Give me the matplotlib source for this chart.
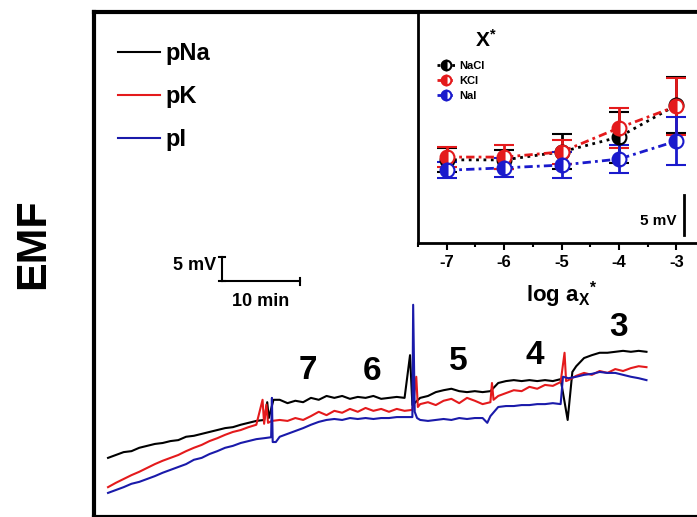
import matplotlib.pyplot as plt

plt.rcParams['font.family'] = ['Liberation Sans', 'DejaVu Sans']
plt.rcParams['font.weight'] = 'bold'
plt.rcParams['axes.labelweight'] = 'bold'
plt.rcParams['axes.unicode_minus'] = False
plt.rcParams['mathtext.fontset'] = 'custom'
plt.rcParams['mathtext.rm'] = 'Liberation Sans:bold'
plt.rcParams['mathtext.it'] = 'Liberation Sans:bold'
plt.rcParams['mathtext.bf'] = 'Liberation Sans:bold'

# main traces: time (min) vs EMF (mV, relative)
black_t = list(range(0, 20)) + [20, 20.4, 20.6, 21.2] + list(range(22, 39)) + [38.7, 39.0] \
    + list(range(40, 50)) + list(range(50, 59)) + [58.9, 59.5] + list(range(60, 70))
black_v = [11.9, 12.5, 13.1, 13.3, 14.0, 14.4, 14.8, 15.0, 15.4, 15.6, 16.3, 16.5, 16.9, 17.3, 17.7,
           18.1, 18.3, 18.8, 19.2, 19.6,
           19.8, 23.5, 20.2, 24.0,
           24.0, 23.3, 23.8, 23.5, 24.4, 24.0, 24.8, 24.4, 24.8, 24.2, 24.6, 24.4, 24.8, 24.2, 24.4, 24.6, 24.4,
           33.3, 22.9,
           24.4, 24.8, 25.6, 26.0, 26.3, 25.8, 25.6, 25.8, 25.6, 25.8,
           27.5, 27.9, 28.1, 27.9, 28.1, 27.9, 28.1, 27.9, 28.3,
           19.8, 29.8,
           31.0, 32.7, 33.3, 33.8, 33.8, 34.0, 34.2, 34.0, 34.2, 34.0]

red_t = list(range(0, 20)) + [19.8, 20.0, 20.3, 20.5] + list(range(21, 39)) + [39, 39.5, 39.7] \
    + list(range(40, 50)) + [49.2, 49.4] + list(range(50, 59)) + [58.5, 58.7] + list(range(59, 70))
red_v = [5.8, 6.7, 7.5, 8.3, 9.0, 9.8, 10.6, 11.3, 11.9, 12.5, 13.3, 14.0, 14.6, 15.4, 16.0, 16.7,
         17.3, 17.7, 18.3, 18.8,
         24.0, 19.0, 23.0, 19.2,
         19.6, 19.8, 19.6, 20.2, 19.8, 20.6, 21.5, 20.8, 21.7, 21.3, 22.1, 21.5, 22.3, 21.7, 22.1, 21.5,
         22.1, 21.7,
         21.9, 28.8, 22.5,
         23.1, 23.5, 22.9, 23.8, 24.2, 23.3, 24.4, 23.8, 23.1, 23.5,
         27.5, 24.0,
         24.8, 25.4, 26.0, 25.8, 26.7, 26.3, 27.1, 26.9, 27.7,
         33.8, 27.9,
         28.1, 29.0, 29.6, 29.2, 30.0, 29.6, 30.4, 30.0, 30.6, 31.0, 30.8]

blue_t = list(range(0, 21)) + [20.9, 21.0, 21.1, 21.5] + list(range(22, 39)) + [39.0, 39.1, 39.3, 39.6] \
    + list(range(40, 49)) + [48.6, 49] + list(range(50, 59)) + [58.3] + list(range(59, 70))
blue_v = [4.6, 5.2, 5.8, 6.5, 6.9, 7.5, 8.1, 8.8, 9.4, 10.0, 10.6, 11.5, 11.9, 12.7, 13.3, 14.0,
          14.4, 15.0, 15.4, 15.8, 16.0,
          16.2, 24.4, 15.2, 15.2,
          16.3, 16.9, 17.5, 18.1, 18.8, 19.4, 19.8, 20.0, 19.8, 20.2, 20.0, 20.2, 20.0, 20.2, 20.2, 20.4, 20.4,
          20.4, 43.8, 21.5, 20.2,
          19.8, 19.6, 19.8, 20.0, 19.8, 20.2, 20.0, 20.2, 20.2,
          19.2, 20.6,
          22.5, 22.7, 22.7, 22.9, 22.9, 23.1, 23.1, 23.3, 23.1,
          28.8,
          28.5, 28.8, 29.2, 29.4, 29.8, 29.6, 29.6, 29.2, 28.8, 28.5, 28.1]

step_labels = ['7', '6', '5', '4', '3']
step_t = [25.6, 33.8, 44.9, 54.7, 65.4]
step_v = [30.2, 29.8, 31.9, 33.3, 39.0]

# inset: response vs log activity
log_a = [-7, -6, -5, -4, -3]
nacl = [10.4, 10.4, 11.4, 13.25, 17.25]
nacl_err = [1.5, 1.2, 2.2, 3.2, 3.5]
kcl = [10.75, 10.75, 11.4, 14.4, 17.1]
kcl_err = [1.3, 1.5, 1.5, 2.5, 3.6]
nai = [9.1, 9.4, 9.75, 10.5, 12.75]
nai_err = [1.0, 1.2, 1.6, 1.8, 3.0]

W, H = 697, 517
fig = plt.figure(figsize=(W / 100, H / 100), dpi=100)

# main panel
ax = fig.add_axes([94 / W, 0, 611 / W, 505 / H])
ax.set_xlim(-1.8, 76.5)
ax.set_ylim(-0.42, 104.8)
ax.set_xticks([])
ax.set_yticks([])
ax.spines['right'].set_visible(False)
for s in ['left', 'top', 'bottom']:
    ax.spines[s].set_linewidth(3)

l1, = ax.plot(black_t, black_v, color='black', lw=1.5)
l2, = ax.plot(red_t, red_v, color='#e41a1c', lw=1.5)
l3, = ax.plot(blue_t, blue_v, color='#1a1aaa', lw=1.5)

ax.legend([l1, l2, l3], ['pNa', 'pK', 'pI'], loc='upper left', bbox_to_anchor=(0.039, 0.94),
          frameon=False, fontsize=17, handlelength=1.8, handletextpad=0.2, labelspacing=0.85,
          borderpad=0, borderaxespad=0)

for lab, t, v in zip(step_labels, step_t, step_v):
    ax.text(t, v, lab, fontsize=24, ha='center', va='center')

# scale bars
ax.plot([14.6, 14.6], [48.7, 53.7], color='black', lw=1.5)
ax.plot([14.2, 15.0], [53.7, 53.7], color='black', lw=1.5)
ax.plot([14.2, 15.0], [48.7, 48.7], color='black', lw=1.5)
ax.plot([14.6, 24.6], [48.7, 48.7], color='black', lw=1.5)
ax.plot([24.6, 24.6], [48.0, 49.4], color='black', lw=1.5)
ax.text(13.8, 51.9, '5 mV', fontsize=13, ha='right', va='center')
ax.text(19.6, 44.4, '10 min', fontsize=13, ha='center', va='center')

fig.text(33 / W, 1 - 244 / H, 'EMF', rotation=90, fontsize=31, ha='center', va='center')

# inset
ax_in = fig.add_axes([418 / W, 1 - 243 / H, 287 / W, 231 / H])
ax_in.set_xlim(-7.5, -2.53)
ax_in.set_ylim(0, 28.9)
ax_in.set_yticks([])
ax_in.set_xticks(log_a)
ax_in.set_xticks([-7.5, -6.5, -5.5, -4.5, -3.5, -2.5], minor=True)
ax_in.tick_params(axis='x', which='major', direction='out', length=5, width=1.5, labelsize=12, pad=4)
ax_in.tick_params(axis='x', which='minor', direction='out', length=3, width=1.5)
for s in ax_in.spines.values():
    s.set_linewidth(2)
ax_in.set_xlabel(r'log a$_{X}{}^{*}$', fontsize=16, fontweight='bold', labelpad=6)

series = [(nacl, nacl_err, 'black', ':', 'NaCl'),
          (kcl, kcl_err, '#e41a1c', (0, (3, 1.5, 1, 1.5)), 'KCl'),
          (nai, nai_err, '#1a1acc', (0, (3, 1.5, 1, 1.5)), 'NaI')]
handles = []
for y, e, c, ls, lab in series:
    cont = ax_in.errorbar(log_a, y, yerr=e, color=c, ecolor=c, linestyle=ls, lw=2,
                          marker='o', ms=10, fillstyle='left', mfc=c, mfcalt='white', mec=c, mew=1.5,
                          elinewidth=2, capsize=7, capthick=2)
    handles.append(cont[0])
ax_in.legend(handles, [s[4] for s in series], loc='upper left', bbox_to_anchor=(0.066, 0.79),
             frameon=False, fontsize=8, handlelength=1.6, handletextpad=0.4, labelspacing=0.45,
             markerscale=0.7, borderpad=0, borderaxespad=0)

ax_in.text(0.237, 0.879, 'X$^{*}$', transform=ax_in.transAxes, fontsize=15, ha='center', va='center')
ax_in.text(-3.0, 2.7, '5 mV', fontsize=11, ha='right', va='center')
ax_in.plot([-2.86, -2.86], [1.0, 6.0], color='black', lw=2)

fig.savefig('out.png', dpi=100)
